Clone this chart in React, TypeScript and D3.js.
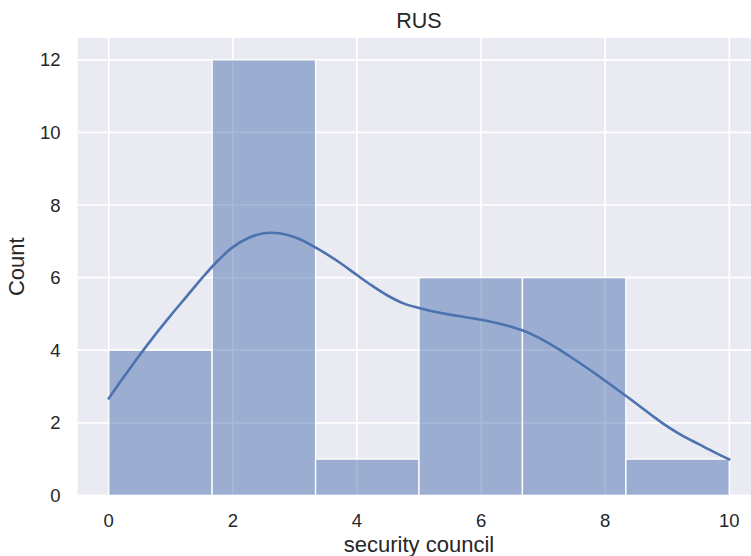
import React from "react";
import * as d3 from "d3";

const binEdges = [0, 1.6667, 3.3333, 5, 6.6667, 8.3333, 10];
const binCounts = [4, 12, 1, 6, 6, 1];
const kdeX = [0, 0.25, 0.5, 0.75, 1.0, 1.25, 1.5, 1.75, 2.0, 2.25, 2.5, 2.75, 3.0, 3.25, 3.5, 3.75, 4.0, 4.25, 4.5, 4.75, 5.0, 5.25, 5.5, 5.75, 6.0, 6.25, 6.5, 6.75, 7.0, 7.25, 7.5, 7.75, 8.0, 8.25, 8.5, 8.75, 9.0, 9.25, 9.5, 9.75, 10];
const kdeY = [2.67, 3.28, 3.87, 4.43, 4.96, 5.47, 5.98, 6.45, 6.84, 7.09, 7.22, 7.22, 7.11, 6.91, 6.66, 6.38, 6.07, 5.77, 5.50, 5.29, 5.16, 5.06, 4.98, 4.91, 4.84, 4.75, 4.64, 4.49, 4.28, 4.03, 3.75, 3.46, 3.16, 2.85, 2.53, 2.21, 1.90, 1.64, 1.42, 1.20, 0.99];
const xTicks = [0, 2, 4, 6, 8, 10];
const yTicks = [0, 2, 4, 6, 8, 10, 12];
const title = "RUS";
const xLabel = "security council";
const yLabel = "Count";

const W = 751;
const H = 556;
const font = "'Liberation Sans', Arial, sans-serif";
const textColor = "#262626";

export default function App() {
  const x = d3.scaleLinear().domain([-0.5, 10.5]).range([77.7, 760.3]);
  const y = d3.scaleLinear().domain([0, 12.6]).range([495.4, 38]);
  const [x0, x1] = x.range();
  const [yb, yt] = y.range();
  const line = d3
    .line<number>()
    .x((_, i) => x(kdeX[i]))
    .y((d) => y(d))
    .curve(d3.curveCatmullRom);

  return (
    <svg
      width={W}
      height={H}
      style={{ position: "absolute", left: 0, top: 0, background: "#fff" }}
    >
      <rect x={x0} y={yt} width={x1 - x0} height={yb - yt} fill="#eaeaf2" />
      {xTicks.map((t) => (
        <line key={"gx" + t} x1={x(t)} x2={x(t)} y1={yt} y2={yb} stroke="#fff" strokeWidth={1.7} />
      ))}
      {yTicks.map((t) => (
        <line key={"gy" + t} x1={x0} x2={x1} y1={y(t)} y2={y(t)} stroke="#fff" strokeWidth={1.7} />
      ))}
      {binCounts.map((c, i) => (
        <rect
          key={"b" + i}
          x={x(binEdges[i])}
          y={y(c)}
          width={x(binEdges[i + 1]) - x(binEdges[i])}
          height={y(0) - y(c)}
          fill="rgba(76,114,176,0.5)"
          stroke="#fff"
          strokeWidth={1.3}
        />
      ))}
      <path d={line(kdeY) || ""} fill="none" stroke="#4c72b0" strokeWidth={2.6} strokeLinecap="round" />
      {xTicks.map((t) => (
        <text key={"tx" + t} x={x(t)} y={527} textAnchor="middle" fontFamily={font} fontSize={18.5} fill={textColor}>
          {t}
        </text>
      ))}
      {yTicks.map((t) => (
        <text key={"ty" + t} x={60.5} y={y(t) + 6.7} textAnchor="end" fontFamily={font} fontSize={18.5} fill={textColor}>
          {t}
        </text>
      ))}
      <text x={(x0 + x1) / 2} y={28} textAnchor="middle" fontFamily={font} fontSize={21.5} fill={textColor}>
        {title}
      </text>
      <text x={(x0 + x1) / 2} y={552} textAnchor="middle" fontFamily={font} fontSize={22} fill={textColor}>
        {xLabel}
      </text>
      <text
        transform={`translate(24, ${(yt + yb) / 2}) rotate(-90)`}
        textAnchor="middle"
        fontFamily={font}
        fontSize={22}
        fill={textColor}
      >
        {yLabel}
      </text>
    </svg>
  );
}
